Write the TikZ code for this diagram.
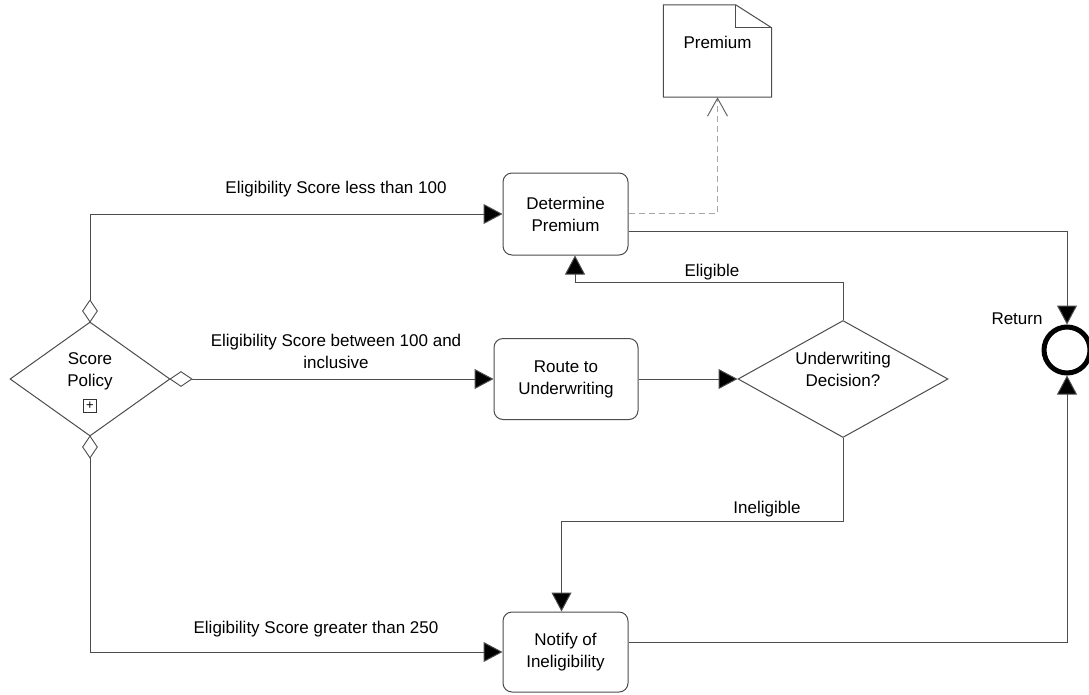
\documentclass[tikz,border=0pt]{standalone}
\usepackage{fontspec}
\setmainfont{Liberation Sans}
\usetikzlibrary{shapes.geometric,arrows.meta,calc}
\begin{document}
\begin{tikzpicture}[x=1pt,y=-1pt,
  every node/.style={font=\fontsize{17}{22}\selectfont},
  task/.style={draw=black!70, rounded corners=9pt, line width=1pt, minimum width=125pt, minimum height=82pt, align=center, inner sep=0pt},
  gw/.style={draw=black!70, diamond, line width=1pt, inner sep=0pt},
  gwm/.style={draw=black!70, diamond, line width=0.9pt, inner sep=0pt, fill=white},
  flow/.style={draw=black!70, line width=1pt, -{Triangle[length=19pt,width=20pt,fill=black]}},
  assoc/.style={draw=black!35, line width=0.9pt, dash pattern=on 6pt off 4pt, -{Straight Barb[length=18pt,width=20pt,line width=1pt,color=black!60]}},
  lbl/.style={align=center, inner sep=0pt},
]
\useasboundingbox (0,0) rectangle (1089,694);
\fill[white] (0,0) rectangle (1089,694);

% gateway Score Policy
\node[gw, minimum width=160pt, minimum height=114pt] (sp) at (90,379) {};
\node[lbl] (sptxt) at (90,371) {Score\\Policy};
\node[draw=black!80, minimum size=13pt, inner sep=0pt, line width=0.7pt, font=\fontsize{13}{13}\selectfont] (plus) at (90,406) {+};
\node[gwm, minimum width=15pt, minimum height=22pt] (mt) at (90,311) {};
\node[gwm, minimum width=15pt, minimum height=22pt] (mb) at (90,447) {};
\node[gwm, minimum width=22pt, minimum height=15pt] (mr) at (181,379) {};

% tasks
\node[task] (dp) at (565.5,214) {Determine\\Premium};
\node[task, minimum width=144pt, minimum height=81pt] (ru) at (566,379) {Route to\\Underwriting};
\node[task, minimum height=80pt] (ni) at (565.5,652) {Notify of\\Ineligibility};

% decision
\node[gw, minimum width=210pt, minimum height=117pt] (ud) at (843,379) {};
\node[lbl] (udtxt) at (843,369) {Underwriting\\Decision?};

% end event
\node[circle, draw=black, line width=5pt, minimum size=46pt, inner sep=0pt] (ret) at (1067,350) {};
\node[lbl] (rettxt) at (1017,319) {Return};

% data object
\node[minimum width=108pt, minimum height=92pt, inner sep=0pt] (prem) at (717.5,51) {};
\draw[draw=black!70, line width=1pt, fill=white]
  (prem.north west) -- ($(prem.north east)+(-36,0)$) -- ($(prem.north east)+(0,23)$)
  -- (prem.south east) -- (prem.south west) -- cycle;
\draw[draw=black!70, line width=1pt] ($(prem.north east)+(-36,0)$) -- ++(0,23) -- ++(36,0);
\node[lbl] (premtxt) at (717.5,42) {Premium};

% flows
\draw[flow] (mt.north) |- (dp.west);
\draw[flow] (mr.east) -- (ru.west);
\draw[flow] (mb.south) |- (ni.west);
\draw[flow] (ru.east) -- (ud.west);
\draw[flow] (ud.north) -- ++(0,-38) -| ($(dp.south)+(9.5,0)$);
\draw[flow] (ud.south) -- ++(0,83) -| ($(ni.north)+(-4,0)$);
\draw[flow] ($(dp.east)+(0,17)$) -| (ret.north);
\draw[flow] ($(ni.east)+(0,-10)$) -| (ret.south);
\draw[assoc] ($(dp.east)+(0,-1)$) -| (prem.south);

% labels
\node[lbl] (l1) at (336,189) {Eligibility Score less than 100};
\node[lbl] (l2) at (336,351) {Eligibility Score between 100 and\\inclusive};
\node[lbl] (l3) at (316,629) {Eligibility Score greater than 250};
\node[lbl] (l4) at (712,272) {Eligible};
\node[lbl] (l5) at (767,509) {Ineligible};
\end{tikzpicture}
\end{document}
